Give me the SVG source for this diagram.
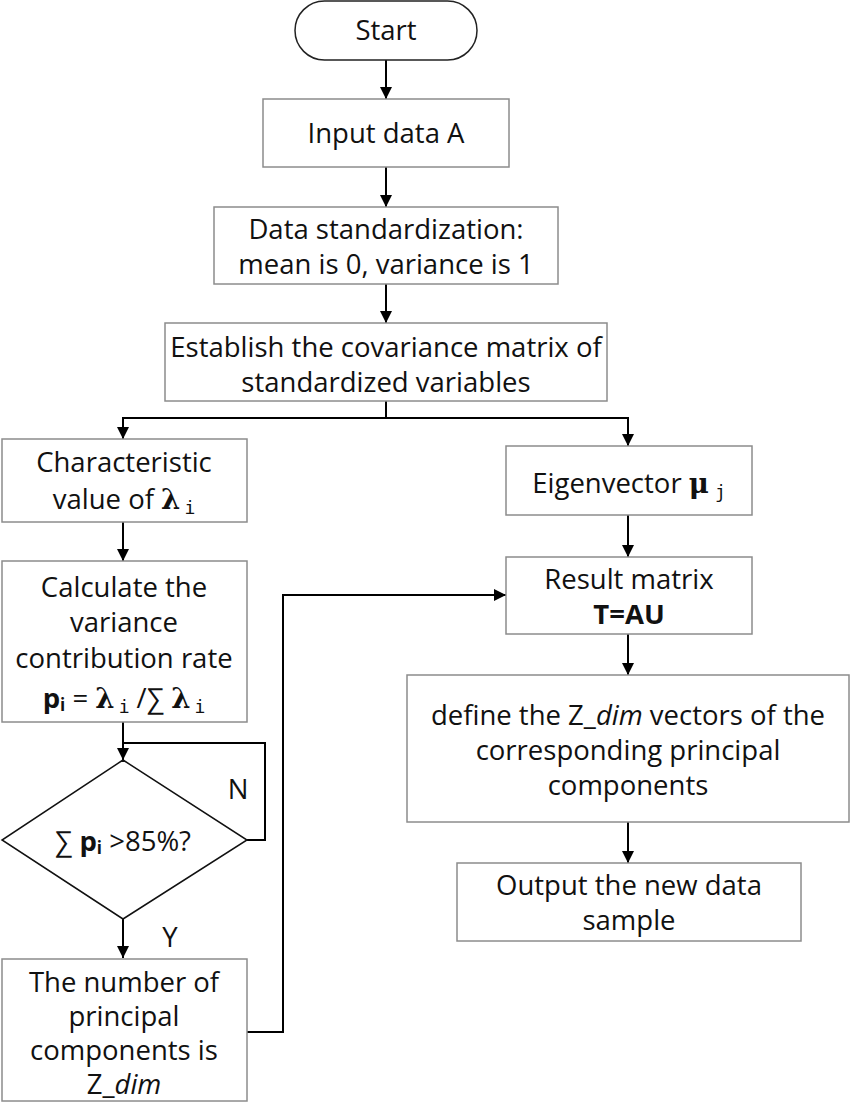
<svg xmlns="http://www.w3.org/2000/svg" width="850" height="1106" viewBox="0 0 850 1106">
<style>
.box{fill:#fff;stroke:#8c8c8c;stroke-width:1.5}
.term{fill:#fff;stroke:#222;stroke-width:1.5}
.dia{fill:#fff;stroke:#111;stroke-width:1.5}
.t{font-family:"Open Sans","Noto Sans","Liberation Sans",sans-serif;font-size:27.5px;fill:#111;text-anchor:middle}
.m{font-family:"DejaVu Serif","Liberation Serif",serif;font-weight:bold}
.s{font-family:"DejaVu Sans Mono","Liberation Mono",monospace;font-size:18px}
.b{font-weight:bold}
.c{fill:none;stroke:#000;stroke-width:2}
</style>
<defs>
<marker id="ah" markerUnits="userSpaceOnUse" markerWidth="12" markerHeight="12" viewBox="0 0 12 12" refX="12" refY="6" orient="auto">
<path d="M0,0 L12,6 L0,12 z" fill="#000"/>
</marker>
</defs>
<g id="connectors">
<path class="c" d="M386,60 V99" marker-end="url(#ah)"/>
<path class="c" d="M386,167 V207" marker-end="url(#ah)"/>
<path class="c" d="M386,284 V323" marker-end="url(#ah)"/>
<path class="c" d="M386,401 V418"/>
<path class="c" d="M386,418 H123 V439" marker-end="url(#ah)"/>
<path class="c" d="M386,418 H628 V446" marker-end="url(#ah)"/>
<path class="c" d="M123,522 V561" marker-end="url(#ah)"/>
<path class="c" d="M628,515 V557" marker-end="url(#ah)"/>
<path class="c" d="M123,722 V760" marker-end="url(#ah)"/>
<path class="c" d="M247,840 H265 V743 H123"/>
<path class="c" d="M123,919 V958" marker-end="url(#ah)"/>
<path class="c" d="M247,1032 H283 V595 H506" marker-end="url(#ah)"/>
<path class="c" d="M628,634 V675" marker-end="url(#ah)"/>
<path class="c" d="M628,822 V863" marker-end="url(#ah)"/>
</g>
<g id="start">
<rect class="term" x="295" y="1" width="182" height="59" rx="29.5"/>
<text class="t" x="386" y="40">Start</text>
</g>
<g id="input">
<rect class="box" x="263" y="99" width="246" height="68"/>
<text class="t" x="386" y="143">Input data A</text>
</g>
<g id="standardize">
<rect class="box" x="214" y="207" width="344" height="77"/>
<text class="t" x="386" y="239">Data standardization:</text>
<text class="t" x="386" y="274">mean is 0, variance is 1</text>
</g>
<g id="covariance">
<rect class="box" x="165" y="323" width="442" height="78"/>
<text class="t" x="386" y="357">Establish the covariance matrix of</text>
<text class="t" x="386" y="392">standardized variables</text>
</g>
<g id="characteristic">
<rect class="box" x="2" y="439" width="245" height="83"/>
<text class="t" x="124" y="472">Characteristic</text>
<text class="t" x="124" y="509">value of <tspan class="m">λ</tspan><tspan class="s" dx="4" dy="5">i</tspan></text>
</g>
<g id="variance">
<rect class="box" x="2" y="561" width="245" height="161"/>
<text class="t" x="124" y="597">Calculate the</text>
<text class="t" x="124" y="632">variance</text>
<text class="t" x="124" y="668">contribution rate</text>
<text class="t" x="124" y="708"><tspan class="b">p</tspan><tspan class="b" font-size="17" dy="3">i</tspan><tspan dy="-3"> = </tspan><tspan class="m">λ</tspan><tspan class="s" dx="4" dy="5">i</tspan><tspan dy="-5"> /∑ </tspan><tspan class="m">λ</tspan><tspan class="s" dx="4" dy="5">i</tspan></text>
</g>
<g id="decision">
<polygon class="dia" points="123,760 247,840 123,919 2,840"/>
<text class="t" x="123" y="851">∑ <tspan class="b">p</tspan><tspan class="b" font-size="17" dy="3">i</tspan><tspan dy="-3"> &gt;85%?</tspan></text>
<text class="t" x="238" y="799">N</text>
<text class="t" x="170" y="947">Y</text>
</g>
<g id="number">
<rect class="box" x="2" y="959" width="245" height="142"/>
<text class="t" x="124" y="992">The number of</text>
<text class="t" x="124" y="1026">principal</text>
<text class="t" x="124" y="1060">components is</text>
<text class="t" x="124" y="1094">Z_<tspan font-style="italic">dim</tspan></text>
</g>
<g id="eigenvector">
<rect class="box" x="506" y="446" width="246" height="69"/>
<text class="t" x="629" y="493">Eigenvector <tspan class="m">μ</tspan><tspan class="s" dx="6" dy="5">j</tspan></text>
</g>
<g id="result">
<rect class="box" x="506" y="557" width="246" height="77"/>
<text class="t" x="629" y="589">Result matrix</text>
<text class="t b" x="629" y="624">T=AU</text>
</g>
<g id="define">
<rect class="box" x="407" y="675" width="442" height="147"/>
<text class="t" x="628" y="725">define the Z_<tspan font-style="italic">dim</tspan> vectors of the</text>
<text class="t" x="628" y="760">corresponding principal</text>
<text class="t" x="628" y="795">components</text>
</g>
<g id="output">
<rect class="box" x="457" y="863" width="344" height="78"/>
<text class="t" x="629" y="895">Output the new data</text>
<text class="t" x="629" y="930">sample</text>
</g>
</svg>
